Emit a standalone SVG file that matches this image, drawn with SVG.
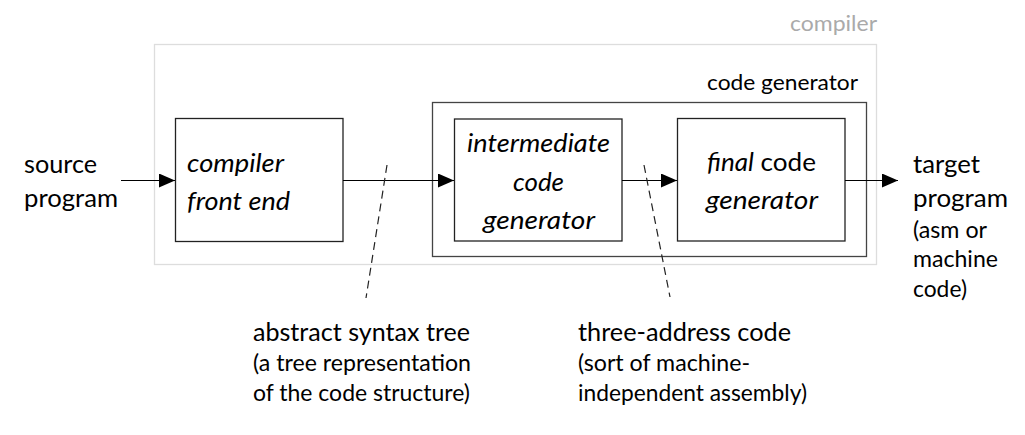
<svg xmlns="http://www.w3.org/2000/svg" width="1025" height="435" viewBox="0 0 1025 435">
<defs>
<style>
text{font-family:Lato,"Noto Sans",sans-serif;fill:#000}
.big{font-size:25.5px}
.sm{font-size:23.5px}
.lbl{font-size:22px}
.it{font-style:italic}
.box{fill:#fff;stroke:#222;stroke-width:1.3}
.edge{stroke:#000;stroke-width:1.2;fill:none}
.dash{stroke:#222;stroke-width:1.2;stroke-dasharray:8,5;fill:none}
</style>
<marker id="ah" markerWidth="16" markerHeight="14" refX="16" refY="7" orient="auto" markerUnits="userSpaceOnUse">
<path d="M0,0 L16,7 L0,14 Z" fill="#000"/>
</marker>
</defs>
<rect width="1025" height="435" fill="#fff"/>
<g id="compiler">
<rect x="154.5" y="44.5" width="722" height="220" fill="none" stroke="#ddd" stroke-width="1.3"/>
<text class="lbl" x="790" y="31" textLength="87" lengthAdjust="spacingAndGlyphs" style="fill:#aaa">compiler</text>
</g>
<g id="code-generator">
<rect x="432.5" y="102.5" width="434" height="154" fill="none" stroke="#444" stroke-width="1.3"/>
<text class="lbl" x="707" y="90" textLength="151" lengthAdjust="spacingAndGlyphs">code generator</text>
</g>
<g id="front-end">
<rect class="box" x="175.5" y="118.5" width="167.5" height="123"/>
<text class="big it" x="187" y="172" textLength="97" lengthAdjust="spacingAndGlyphs">compiler</text>
<text class="big it" x="187" y="210" textLength="103" lengthAdjust="spacingAndGlyphs">front end</text>
</g>
<g id="intermediate">
<rect class="box" x="454.5" y="119" width="167.5" height="122"/>
<text class="big it" x="467" y="152" textLength="143" lengthAdjust="spacingAndGlyphs">intermediate</text>
<text class="big it" x="513" y="191" textLength="51" lengthAdjust="spacingAndGlyphs">code</text>
<text class="big it" x="483" y="229" textLength="112" lengthAdjust="spacingAndGlyphs">generator</text>
</g>
<g id="final">
<rect class="box" x="677.5" y="118.5" width="167.5" height="122.5"/>
<text class="big" x="707" y="171" textLength="109" lengthAdjust="spacingAndGlyphs"><tspan class="it">final</tspan> code</text>
<text class="big it" x="706" y="209" textLength="112" lengthAdjust="spacingAndGlyphs">generator</text>
</g>
<g id="source">
<text class="big" x="24" y="173" textLength="73" lengthAdjust="spacingAndGlyphs">source</text>
<text class="big" x="24" y="207" textLength="94" lengthAdjust="spacingAndGlyphs">program</text>
</g>
<g id="target">
<text class="big" x="913" y="173" textLength="67" lengthAdjust="spacingAndGlyphs">target</text>
<text class="big" x="913" y="207" textLength="95" lengthAdjust="spacingAndGlyphs">program</text>
<text class="sm" x="913" y="238" textLength="74" lengthAdjust="spacingAndGlyphs">(asm or</text>
<text class="sm" x="913" y="267" textLength="85" lengthAdjust="spacingAndGlyphs">machine</text>
<text class="sm" x="913" y="297" textLength="54" lengthAdjust="spacingAndGlyphs">code)</text>
</g>
<g id="ast">
<text class="big" x="253" y="341" textLength="217" lengthAdjust="spacingAndGlyphs">abstract syntax tree</text>
<text class="sm" x="253" y="371" textLength="218" lengthAdjust="spacingAndGlyphs">(a tree representation</text>
<text class="sm" x="253" y="401" textLength="217" lengthAdjust="spacingAndGlyphs">of the code structure)</text>
</g>
<g id="tac">
<text class="big" x="578" y="341" textLength="213" lengthAdjust="spacingAndGlyphs">three-address code</text>
<text class="sm" x="578" y="371" textLength="172" lengthAdjust="spacingAndGlyphs">(sort of machine-</text>
<text class="sm" x="578" y="401" textLength="229" lengthAdjust="spacingAndGlyphs">independent assembly)</text>
</g>
<g id="connectors">
<line class="edge" x1="121" y1="180.5" x2="175" y2="180.5" marker-end="url(#ah)"/>
<line class="edge" x1="343" y1="180.5" x2="454" y2="180.5" marker-end="url(#ah)"/>
<line class="edge" x1="622" y1="180.5" x2="677" y2="180.5" marker-end="url(#ah)"/>
<line class="edge" x1="845" y1="180.5" x2="898" y2="180.5" marker-end="url(#ah)"/>
<line class="dash" x1="387" y1="165" x2="366" y2="298"/>
<line class="dash" x1="644" y1="165" x2="670" y2="297"/>
</g>
</svg>
